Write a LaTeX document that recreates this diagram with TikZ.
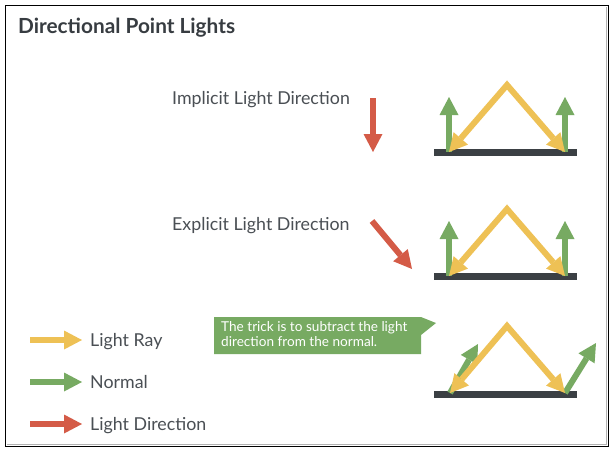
\documentclass[tikz,border=0pt]{standalone}
\usepackage{fontspec}
\setmainfont{Lato}
\usetikzlibrary{arrows.meta}
\definecolor{ray}{HTML}{EEC155}
\definecolor{normal}{HTML}{77AA62}
\definecolor{ldir}{HTML}{D45B47}
\definecolor{bar}{HTML}{3B4044}
\definecolor{txt}{HTML}{4A4F54}
\definecolor{ttl}{HTML}{373C41}
\begin{document}
\begin{tikzpicture}[x=1pt,y=-1pt,
  arr/.style={line width=6pt, line join=miter, -{Triangle[width=19pt,length=18pt,line width=0pt]}},
  darr/.style={line width=6pt, line join=miter, {Triangle[width=19pt,length=18pt,line width=0pt]}-{Triangle[width=19pt,length=18pt,line width=0pt]}},
  lbl/.style={anchor=base west, inner sep=0pt, text=txt, font=\fontsize{17.8}{21}\selectfont},
  surf/.style={fill=bar}]
\useasboundingbox (0,0) rectangle (613,451);
\fill[white] (0,0) rectangle (613,451);
\draw[gray!60, line width=1pt] (606,7) -- (606,444) -- (7,444);
\draw[black, line width=1.6pt] (5.5,5.5) rectangle (608.5,446.5);

% title
\node[anchor=base west, inner sep=0pt, text=ttl, font=\fontsize{20.8}{24}\selectfont\bfseries] (title) at (18,33) {Directional Point Lights};

% labels
\node[lbl] (impl) at (172,104) {Implicit Light Direction};
\node[lbl] (expl) at (172,230) {Explicit Light Direction};

% implicit light direction arrow
\coordinate (ia) at (373,98);
\coordinate (ib) at (373,152);
\draw[arr, ldir] (ia) -- (ib);
% explicit light direction arrow
\coordinate (ea) at (372,221);
\coordinate (eb) at (412,269);
\draw[arr, ldir] (ea) -- (eb);

% diagram 1
\fill[surf] (434,149) rectangle (577,156);
\coordinate (n1a) at (449,152); \coordinate (n1b) at (449,97);
\coordinate (n2a) at (565,152); \coordinate (n2b) at (565,97);
\draw[arr, normal] (n1a) -- (n1b);
\draw[arr, normal] (n2a) -- (n2b);
\coordinate (r1l) at (449,152); \coordinate (r1t) at (507,85); \coordinate (r1r) at (565,152);
\draw[darr, ray] (r1l) -- (r1t) -- (r1r);

% diagram 2
\fill[surf] (434,273) rectangle (577,280);
\coordinate (m1a) at (449,276); \coordinate (m1b) at (449,221);
\coordinate (m2a) at (565,276); \coordinate (m2b) at (565,221);
\draw[arr, normal] (m1a) -- (m1b);
\draw[arr, normal] (m2a) -- (m2b);
\coordinate (r2l) at (449,276); \coordinate (r2t) at (507,209); \coordinate (r2r) at (565,276);
\draw[darr, ray] (r2l) -- (r2t) -- (r2r);

% diagram 3
\fill[surf] (434,391) rectangle (577,398);
\coordinate (k1a) at (450,393); \coordinate (k1b) at (478,344);
\coordinate (k2a) at (565,393); \coordinate (k2b) at (596,343);
\draw[arr, normal] (k1a) -- (k1b);
\draw[arr, normal] (k2a) -- (k2b);
\coordinate (r3l) at (450,393); \coordinate (r3t) at (507,326); \coordinate (r3r) at (565,393);
\draw[darr, ray] (r3l) -- (r3t) -- (r3r);

% callout
\fill[normal] (214,317) -- (421,317) -- (436,323) -- (421,335) -- (421,354) -- (214,354) -- cycle;
\node[anchor=base west, inner sep=0pt, text=white, align=left, font=\fontsize{13.6}{15}\selectfont] (call) at (221,346) {The trick is to subtract the light\\direction from the normal.};

% legend
\coordinate (la1) at (30,340); \coordinate (la2) at (82,340);
\draw[arr, ray] (la1) -- (la2);
\node[lbl] (lray) at (90,346) {Light Ray};
\coordinate (lb1) at (30,382); \coordinate (lb2) at (82,382);
\draw[arr, normal] (lb1) -- (lb2);
\node[lbl] (lnorm) at (90,388) {Normal};
\coordinate (lc1) at (30,424); \coordinate (lc2) at (82,424);
\draw[arr, ldir] (lc1) -- (lc2);
\node[lbl] (ldirl) at (90,430) {Light Direction};
\end{tikzpicture}
\end{document}
